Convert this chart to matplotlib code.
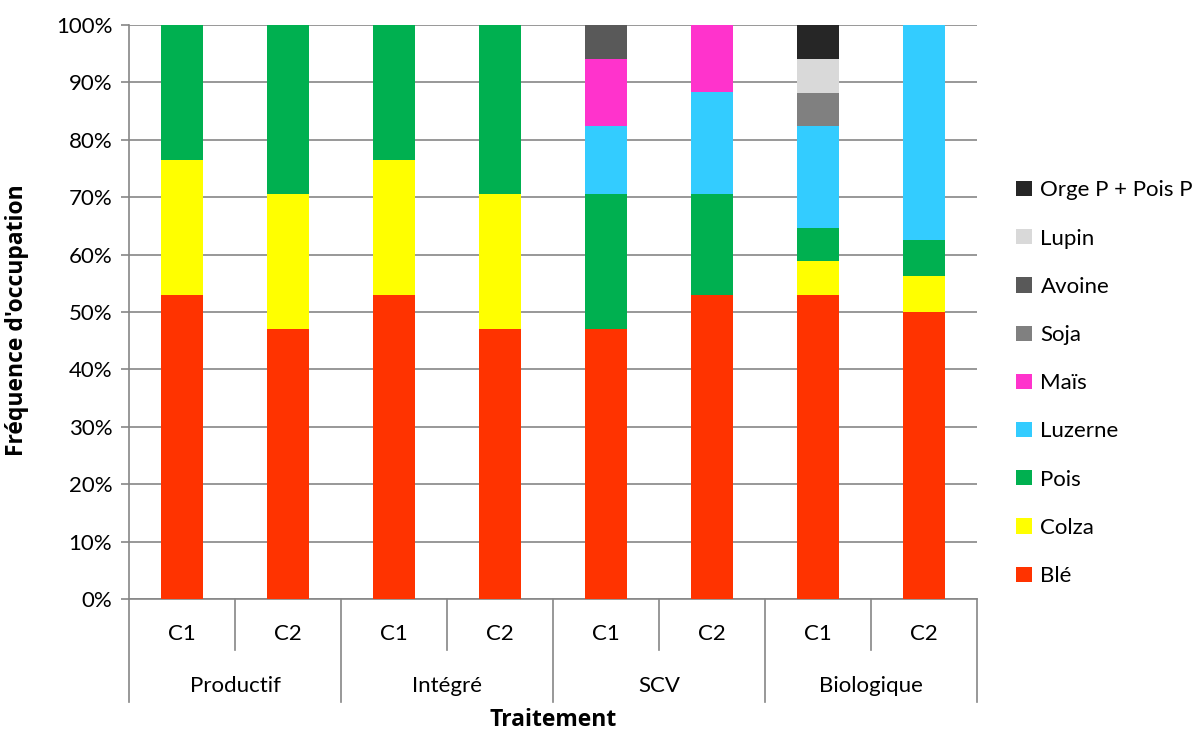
import matplotlib.pyplot as plt
import numpy as np

plt.rcParams['font.family'] = ['Lato', 'DejaVu Sans']

# Fréquence d'occupation (%) par culture, pour chaque traitement / rotation
traitements = ['Productif', 'Intégré', 'SCV', 'Biologique']
rotations = ['C1', 'C2', 'C1', 'C2', 'C1', 'C2', 'C1', 'C2']

ble = [52.94, 47.06, 52.94, 47.06, 47.06, 52.94, 52.94, 50.0]
colza = [23.53, 23.53, 23.53, 23.53, 0, 0, 5.88, 6.25]
pois = [23.53, 29.41, 23.53, 29.41, 23.53, 17.65, 5.88, 6.25]
luzerne = [0, 0, 0, 0, 11.76, 17.65, 17.65, 37.5]
mais = [0, 0, 0, 0, 11.76, 11.76, 0, 0]
soja = [0, 0, 0, 0, 0, 0, 5.88, 0]
avoine = [0, 0, 0, 0, 5.88, 0, 0, 0]
lupin = [0, 0, 0, 0, 0, 0, 5.88, 0]
orge = [0, 0, 0, 0, 0, 0, 5.88, 0]

cultures = ['Blé', 'Colza', 'Pois', 'Luzerne', 'Maïs', 'Soja', 'Avoine', 'Lupin', 'Orge P + Pois P']
series = [ble, colza, pois, luzerne, mais, soja, avoine, lupin, orge]
couleurs = ['#FF3300', '#FFFF00', '#00B050', '#33CCFF', '#FF33CC',
            '#808080', '#595959', '#D9D9D9', '#262626']

FS = 16
titre = dict(family=['Open Sans', 'DejaVu Sans'], fontsize=16.5, fontweight='bold')

fig = plt.figure(figsize=(12.03, 7.33), dpi=100)
ax = fig.add_axes([0.1072, 0.1828, 0.705, 0.7831])

x = np.arange(len(rotations))
bas = np.zeros(len(rotations))
handles = {}
for nom, vals, coul in zip(cultures, series, couleurs):
    vals = np.array(vals, dtype=float)
    b = ax.bar(x, vals, width=0.4, bottom=bas, color=coul, label=nom, zorder=3)
    handles[nom] = b
    bas += vals

ax.set_xlim(-0.5, 7.5)
ax.set_ylim(0, 100)
ax.set_yticks(np.arange(0, 101, 10))
ax.set_yticklabels([f'{v}%' for v in range(0, 101, 10)], fontsize=FS)
ax.grid(axis='y', color='#868686', linewidth=1.2, zorder=0)
ax.tick_params(axis='y', length=6, color='#868686', width=1.2, pad=6)

for s in ['top', 'right']:
    ax.spines[s].set_visible(False)
for s in ['left', 'bottom']:
    ax.spines[s].set_color('#868686')
    ax.spines[s].set_linewidth(1.2)

# axe des x à deux niveaux : rotation puis traitement
ax.set_xticks(x)
ax.set_xticklabels([])
ax.tick_params(axis='x', length=0)
trans = ax.get_xaxis_transform()
for i, r in enumerate(rotations):
    ax.text(i, -0.061, r, transform=trans, ha='center', va='center', fontsize=FS)
for k, t in enumerate(traitements):
    ax.text(2 * k + 0.5, -0.1516, t, transform=trans, ha='center', va='center', fontsize=FS)
for xs in np.arange(-0.5, 8, 1.0):
    longue = (xs + 0.5) % 2 == 0
    ax.plot([xs, xs], [0, -0.1794 if longue else -0.0889], transform=trans,
            color='#868686', linewidth=1.2, clip_on=False)

ax.set_ylabel("Fréquence d'occupation", **titre)
ax.yaxis.set_label_coords(-0.118, 0.485)
fig.text(0.4594, 0.018, 'Traitement', ha='center', va='center', **titre)

ordre = cultures[::-1]
leg = ax.legend([handles[n] for n in ordre], ordre, loc='center left',
                bbox_to_anchor=(1.036, 0.376), frameon=False, fontsize=FS,
                handlelength=0.68, handleheight=0.68, handletextpad=0.4,
                labelspacing=1.27, borderaxespad=0)

fig.savefig('out.png', dpi=100)
